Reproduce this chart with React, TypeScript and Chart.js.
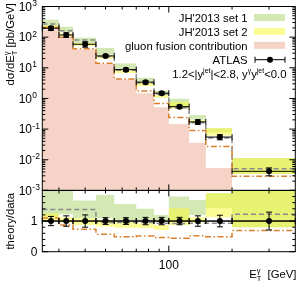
import { useEffect, useRef } from 'react';
import { Chart, registerables } from 'chart.js';

Chart.register(...registerables);

// ---------------- data ----------------
const binEdges = [25, 30, 35, 45, 55, 70, 85, 100, 125, 150, 200, 400];
const binCenters = [27.5, 32.5, 40, 50, 62.5, 77.5, 92.5, 112.5, 137.5, 175, 300];

const atlasXsec = [195, 118, 58.7, 24.4, 8.7, 3.4, 1.49, 0.54, 0.172, 0.055, 0.0042];
const atlasRelErr = [0.15, 0.17, 0.2, 0.11, 0.11, 0.12, 0.12, 0.12, 0.17, 0.19, 0.29];

const set1Low = [222, 148, 64, 26.5, 8.8, 3.3, 1.49, 0.54, 0.206, 0.078, 0.0034];
const set1High = [370, 220, 96, 44, 13.8, 4.7, 1.79, 0.97, 0.29, 0.107, 0.0115];
const set2Low = [195, 112, 51, 20, 6.8, 2.55, 1.06, 0.46, 0.163, 0.0616, 0.0034];
const set2High = [240, 135, 64, 25.4, 8.35, 3.2, 1.3, 0.76, 0.193, 0.107, 0.0115];
const grayMain = [269, 163, 81, 23.2, 8.3, 3.2, 1.4, 0.5, 0.16, 0.051, 0.0051];
const orangeMain = [205, 100, 42, 14, 4.3, 1.75, 0.69, 0.24, 0.09, 0.027, 0.0029];
const gluonFusion: (number | null)[] = [181, 92, 39.7, 13.6, 4.19, 1.49, 0.52, 0.146, 0.0358, 0.0054, null];

const ratioAtlas = [1, 1, 1, 1, 1, 1, 1, 1, 1, 1, 1];
const ratioSet1Low = [1.15, 1.22, 1.09, 1.09, 1.0, 1.0, 1.0, 1.0, 1.2, 1.42, 0.8];
const ratioSet1High = [2.0, 2.0, 1.67, 1.85, 1.56, 1.4, 1.2, 1.8, 1.69, 1.91, 2.0];
const ratioSet2Low = [1.0, 0.95, 0.87, 0.82, 0.78, 0.77, 0.71, 0.87, 0.95, 1.12, 0.8];
const ratioSet2High = [1.25, 1.12, 1.09, 1.04, 0.96, 0.93, 0.87, 1.42, 1.12, 1.91, 2.0];
const ratioGray = [1.38, 1.38, 1.38, 0.95, 0.95, 0.95, 0.93, 0.92, 0.93, 0.93, 1.22];
const ratioOrange = [1.1, 0.87, 0.73, 0.57, 0.49, 0.51, 0.46, 0.44, 0.52, 0.49, 0.69];

const mainTickExponents = [3, 2, 1, 0, -1, -2, -3];
const ratioTickLabels = [0, 1];
const xTickLabels = [100];
const xTickValues = [30, 40, 50, 60, 70, 80, 90, 100, 200, 300];
const legendLabels = ["JH'2013 set 1", "JH'2013 set 2", 'gluon fusion contribution', 'ATLAS'];

// ---------------- style ----------------
const FONT = '"Liberation Sans", Arial, Helvetica, sans-serif';
const GREEN = 'rgba(176, 214, 118, 0.55)';
const YELLOW = 'rgba(250, 250, 60, 0.55)';
const PINK = '#f5d4c7';
const GRAY = '#8a8a8a';
const ORANGE = '#d9802e';

type Pt = { x: number; y: number | null };
function step(values: (number | null)[]): Pt[] {
  const pts: Pt[] = [];
  values.forEach((v, i) => {
    pts.push({ x: binEdges[i], y: v });
    pts.push({ x: binEdges[i + 1], y: v });
  });
  return pts;
}

type Seg = { t?: string; size: number; dy?: number; stack?: { sub: string; sup: string } };
function segWidth(ctx: CanvasRenderingContext2D, s: Seg) {
  ctx.font = `${s.size}px ${FONT}`;
  if (s.stack) return Math.max(ctx.measureText(s.stack.sub).width, ctx.measureText(s.stack.sup).width);
  return ctx.measureText(s.t || '').width;
}
function drawSegs(ctx: CanvasRenderingContext2D, segs: Seg[], x: number, y: number, align: 'left' | 'right') {
  const total = segs.reduce((a, s) => a + segWidth(ctx, s), 0);
  let cx = align === 'right' ? x - total : x;
  ctx.textAlign = 'left';
  ctx.textBaseline = 'alphabetic';
  for (const s of segs) {
    const w = segWidth(ctx, s);
    ctx.font = `${s.size}px ${FONT}`;
    if (s.stack) {
      ctx.fillText(s.stack.sub, cx, y + 3);
      ctx.fillText(s.stack.sup, cx, y - 5);
    } else {
      ctx.fillText(s.t || '', cx, y + (s.dy || 0));
    }
    cx += w;
  }
  return total;
}

function drawErrors(chart: any, yScale: any, vals: number[], errs: number[], isLog: boolean) {
  const ctx = chart.ctx as CanvasRenderingContext2D;
  const xs = chart.scales.x;
  ctx.save();
  ctx.strokeStyle = '#000';
  ctx.lineWidth = 1;
  vals.forEach((v, i) => {
    const yp = yScale.getPixelForValue(v);
    const x0 = xs.getPixelForValue(binEdges[i]);
    const x1 = xs.getPixelForValue(binEdges[i + 1]);
    const xc = xs.getPixelForValue(binCenters[i]);
    const up = isLog ? v * (1 + errs[i]) : v + errs[i];
    const dn = isLog ? v * (1 - errs[i]) : v - errs[i];
    const yu = yScale.getPixelForValue(up);
    const yd = yScale.getPixelForValue(dn);
    ctx.beginPath();
    ctx.moveTo(x0, yp); ctx.lineTo(x1, yp);
    ctx.moveTo(x0, yp - 3); ctx.lineTo(x0, yp + 3);
    ctx.moveTo(x1, yp - 3); ctx.lineTo(x1, yp + 3);
    ctx.moveTo(xc, yu); ctx.lineTo(xc, yd);
    ctx.moveTo(xc - 3, yu); ctx.lineTo(xc + 3, yu);
    ctx.moveTo(xc - 3, yd); ctx.lineTo(xc + 3, yd);
    ctx.stroke();
  });
  ctx.restore();
}

export default function App() {
  const ref = useRef<HTMLCanvasElement | null>(null);

  useEffect(() => {
    document.body.style.margin = '0';
    const canvas = ref.current;
    if (!canvas) return;

    const datasets: any[] = [];
    const add = (d: any) => { datasets.push(d); return datasets.length - 1; };
    const band = (low: number[], high: number[], color: string, yID: string, order: number) => {
      add({ data: step(low), yAxisID: yID, borderWidth: 0, borderColor: 'rgba(0,0,0,0)', pointRadius: 0, fill: false, order });
      add({ data: step(high), yAxisID: yID, borderWidth: 0, borderColor: 'rgba(0,0,0,0)', pointRadius: 0, fill: '-1', backgroundColor: color, order });
    };
    const stepLine = (vals: number[], color: string, dash: number[], yID: string, order: number) =>
      add({ data: step(vals), yAxisID: yID, borderColor: color, borderWidth: 1.5, borderDash: dash, pointRadius: 0, fill: false, order });

    // main panel
    add({ data: step(gluonFusion), yAxisID: 'y', borderWidth: 0, borderColor: 'rgba(0,0,0,0)', pointRadius: 0, fill: 'start', backgroundColor: PINK, order: 10 });
    band(set1Low, set1High, GREEN, 'y', 9);
    band(set2Low, set2High, YELLOW, 'y', 8);
    stepLine(grayMain, GRAY, [5, 3], 'y', 7);
    stepLine(orangeMain, ORANGE, [6, 2.5, 1.5, 2.5], 'y', 6);
    const mainPtsIdx = add({
      data: binCenters.map((x, i) => ({ x, y: atlasXsec[i] })), yAxisID: 'y', showLine: false,
      pointRadius: 3, pointBackgroundColor: '#000', pointBorderColor: '#000', pointBorderWidth: 0, order: 1,
    });

    // ratio panel
    band(ratioSet1Low, ratioSet1High, GREEN, 'yr', 9);
    band(ratioSet2Low, ratioSet2High, YELLOW, 'yr', 8);
    stepLine(ratioGray, GRAY, [5, 3], 'yr', 7);
    stepLine(ratioOrange, ORANGE, [6, 2.5, 1.5, 2.5], 'yr', 6);
    add({
      data: [{ x: binEdges[0], y: 1 }, { x: binEdges[binEdges.length - 1], y: 1 }], yAxisID: 'yr',
      borderColor: '#000', borderWidth: 1, pointRadius: 0, fill: false, order: 5,
    });
    const ratioPtsIdx = add({
      data: binCenters.map((x, i) => ({ x, y: ratioAtlas[i] })), yAxisID: 'yr', showLine: false,
      pointRadius: 3, pointBackgroundColor: '#000', pointBorderColor: '#000', pointBorderWidth: 0, order: 1,
    });

    const decorations = {
      id: 'decorations',
      beforeDatasetDraw(chart: any, args: any) {
        if (args.index === mainPtsIdx) drawErrors(chart, chart.scales.y, atlasXsec, atlasRelErr, true);
        if (args.index === ratioPtsIdx) drawErrors(chart, chart.scales.yr, ratioAtlas, atlasRelErr, false);
      },
      afterDraw(chart: any) {
        const ctx = chart.ctx as CanvasRenderingContext2D;
        const { x, y, yr } = chart.scales;
        const L = x.left, R = x.right;
        ctx.save();
        ctx.strokeStyle = '#000';
        ctx.lineWidth = 1;
        ctx.strokeRect(L, y.top, R - L, y.bottom - y.top);
        ctx.strokeRect(L, yr.top, R - L, yr.bottom - yr.top);
        ctx.beginPath();
        // main y ticks
        for (let e = -3; e < 3; e++) {
          for (let k = 1; k < 10; k++) {
            const py = y.getPixelForValue(k * Math.pow(10, e));
            const len = k === 1 ? 6 : 3;
            ctx.moveTo(L, py); ctx.lineTo(L + len, py);
            ctx.moveTo(R, py); ctx.lineTo(R - len, py);
          }
        }
        // ratio y ticks
        for (let i = 0; i <= 10; i++) {
          const v = i * 0.2;
          const py = yr.getPixelForValue(v);
          const len = i % 5 === 0 ? 6 : 3;
          ctx.moveTo(L, py); ctx.lineTo(L + len, py);
          ctx.moveTo(R, py); ctx.lineTo(R - len, py);
        }
        // x ticks
        for (const v of xTickValues) {
          const px = x.getPixelForValue(v);
          const len = v === 100 ? 6 : 3;
          ctx.moveTo(px, y.top); ctx.lineTo(px, y.top + len);
          ctx.moveTo(px, y.bottom); ctx.lineTo(px, y.bottom - len);
          ctx.moveTo(px, yr.top); ctx.lineTo(px, yr.top + len);
          ctx.moveTo(px, yr.bottom); ctx.lineTo(px, yr.bottom - len);
        }
        ctx.stroke();

        ctx.fillStyle = '#000';
        // main y labels
        for (const e of mainTickExponents) {
          const py = y.getPixelForValue(Math.pow(10, e));
          ctx.font = `12px ${FONT}`;
          ctx.textAlign = 'right';
          ctx.textBaseline = 'alphabetic';
          ctx.fillText('10', 32, py + 4.3);
          ctx.font = `8.5px ${FONT}`;
          ctx.textAlign = 'left';
          ctx.fillText(String(e), 32.3, py - 0.5);
        }
        // ratio labels
        ctx.font = `12px ${FONT}`;
        ctx.textAlign = 'right';
        for (const v of ratioTickLabels) {
          ctx.fillText(String(v), 37.3, yr.getPixelForValue(v) + 4.3);
        }
        // x labels
        ctx.textAlign = 'center';
        for (const v of xTickLabels) {
          ctx.fillText(String(v), x.getPixelForValue(v), 269.3);
        }
        // x title
        drawSegs(ctx, [{ t: 'E', size: 11.3 }, { stack: { sub: 'T', sup: 'γ' }, size: 7.5 }, { t: '  [GeV]', size: 11.3 }], 296.5, 278.3, 'right');

        // y titles (rotated)
        ctx.save();
        ctx.translate(13.5, 3);
        ctx.rotate(-Math.PI / 2);
        drawSegs(ctx, [{ t: 'dσ/dE', size: 11.3 }, { stack: { sub: 'T', sup: 'γ' }, size: 7.5 }, { t: ' [pb/GeV]', size: 11.3 }], 0, 0, 'right');
        ctx.restore();
        ctx.save();
        ctx.translate(13.5, 193);
        ctx.rotate(-Math.PI / 2);
        drawSegs(ctx, [{ t: 'theory/data', size: 11.3 }], 0, 0, 'right');
        ctx.restore();

        // legend
        const boxColors = [GREEN, YELLOW, PINK];
        const rowBase = (i: number) => 22 + 13.9 * i;
        legendLabels.forEach((lab, i) => {
          const b = rowBase(i);
          drawSegs(ctx, [{ t: lab, size: 11.3 }], 247.5, b, 'right');
          if (i < 3) {
            ctx.fillStyle = boxColors[i];
            ctx.fillRect(254, b - 8, 31, 7);
            ctx.fillStyle = '#000';
          } else {
            const cy = b - 4;
            ctx.beginPath();
            ctx.moveTo(255, cy); ctx.lineTo(285, cy);
            ctx.moveTo(255, cy - 3); ctx.lineTo(255, cy + 3);
            ctx.moveTo(285, cy - 3); ctx.lineTo(285, cy + 3);
            ctx.stroke();
            ctx.beginPath();
            ctx.arc(270, cy, 3, 0, Math.PI * 2);
            ctx.fill();
          }
        });
        drawSegs(ctx, [
          { t: '1.2<|y', size: 11.3 }, { t: 'jet', size: 7, dy: -4.5 }, { t: '|<2.8, y', size: 11.3 },
          { t: 'γ', size: 7, dy: -4.5 }, { t: 'y', size: 11.3 }, { t: 'jet', size: 7, dy: -4.5 }, { t: '<0.0', size: 11.3 },
        ], 286.5, rowBase(4), 'right');
        ctx.restore();
      },
    };

    const hidden = {
      grid: { display: false },
      border: { display: false },
      ticks: { display: false },
      title: { display: false },
    };

    const chart = new Chart(canvas, {
      type: 'line',
      data: { datasets },
      options: {
        responsive: false,
        animation: false,
        events: [],
        layout: { padding: { top: 6.5, right: 4.7, left: 0, bottom: 0 } },
        plugins: { legend: { display: false }, tooltip: { enabled: false }, title: { display: false } },
        elements: { line: { tension: 0 } },
        scales: {
          x: { type: 'logarithmic', min: 25, max: 400, ...hidden, afterFit: (s: any) => { s.height = 30.3; } },
          yr: { type: 'linear', min: 0, max: 2, position: 'left', stack: 'panels', stackWeight: 1, weight: 1, ...hidden, afterFit: (s: any) => { s.width = 42.3; } },
          y: { type: 'logarithmic', min: 1e-3, max: 1e3, position: 'left', stack: 'panels', stackWeight: 3, weight: 2, ...hidden, afterFit: (s: any) => { s.width = 42.3; } },
        },
      } as any,
      plugins: [decorations],
    });
    return () => chart.destroy();
  }, []);

  return (
    <div style={{ position: 'absolute', left: 0, top: 0, width: 300, height: 282 }}>
      <canvas ref={ref} width={300} height={282} style={{ display: 'block' }} />
    </div>
  );
}
